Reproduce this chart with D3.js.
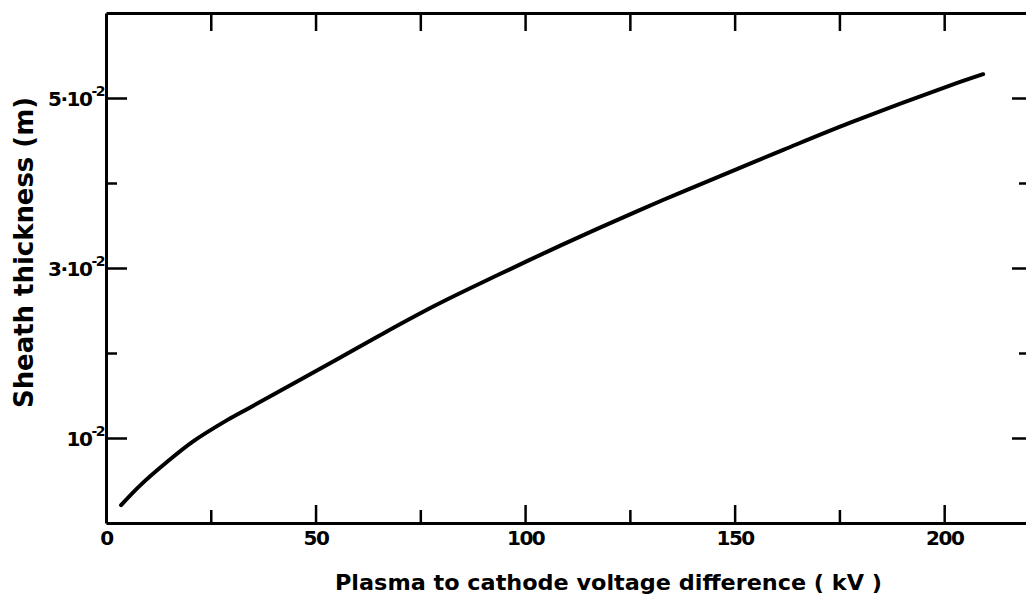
<!DOCTYPE html>
<html lang="en">
<head>
    <meta charset="UTF-8">
    <title>Sheath thickness</title>
    <script src="https://d3js.org/d3.v7.min.js"></script>
    <style>
        html, body {
            margin: 0;
            background: #fff;
        }
        text {
            font-family: "DejaVu Sans", sans-serif;
            fill: #000;
        }
    </style>
</head>
<body>
<div id="vis"></div>
<script>
// voltage (kV) vs sheath thickness (m)
var voltage   = [3.6, 8.1, 14.6, 20.8, 28.9, 34.4, 54.2, 65.4, 79, 93.6, 105.2, 117.2, 132.9, 148.4, 161.6, 177.6, 201, 209.3];
var thickness = [0.0021, 0.0044, 0.0072, 0.0096, 0.0121, 0.0136, 0.0190, 0.0221, 0.0257, 0.0292, 0.0319, 0.0346, 0.0380, 0.0412, 0.0439, 0.0471, 0.0514, 0.0528];

var xMajor = [0, 50, 100, 150, 200];
var xMinor = [25, 75, 125, 175];
var yMajor = [0.01, 0.03, 0.05];
var yMinor = [0.02, 0.04];
var yTickLabels = [["", "10", "-2"], ["3·", "10", "-2"], ["5·", "10", "-2"]];

var width = 1026, height = 600;

var svg = d3.select('#vis')
    .append('svg')
    .attr('width', width)
    .attr('height', height);

var x = d3.scaleLinear().domain([0, 220]).range([106, 1028]);
var y = d3.scaleLinear().domain([0, 0.06]).range([523, 13]);

var data = voltage.map(function(v, i) { return {v: v, s: thickness[i]}; });

function styleAxis(g) {
    g.select('.domain').attr('stroke', '#000').attr('stroke-width', 3);
    g.selectAll('.tick line').attr('stroke', '#000').attr('stroke-width', 2.5);
}

// bottom axis, ticks pointing inward
var bottom = svg.append('g')
    .attr('transform', 'translate(0,' + y(0) + ')')
    .call(d3.axisBottom(x).tickValues(xMajor).tickSize(-18).tickSizeOuter(0).tickPadding(8)
        .tickFormat(d3.format('d')));
styleAxis(bottom);
bottom.selectAll('text')
    .style('font-size', '20px')
    .style('font-weight', 'bold')
    .style('letter-spacing', '-1.5px');

svg.append('g')
    .attr('transform', 'translate(0,' + y(0) + ')')
    .call(d3.axisBottom(x).tickValues(xMinor).tickSize(-13).tickFormat(''))
    .call(function(g) { g.select('.domain').remove(); })
    .call(styleAxis);

// top frame
svg.append('g')
    .attr('transform', 'translate(0,' + y(0.06) + ')')
    .call(d3.axisTop(x).tickValues(xMajor.concat(xMinor).filter(function(d) { return d > 0; }))
        .tickSize(-18).tickSizeOuter(0).tickFormat(''))
    .call(styleAxis);

// left axis
svg.append('g')
    .attr('transform', 'translate(' + x(0) + ',0)')
    .call(d3.axisLeft(y).tickValues(yMajor).tickSize(-21).tickSizeOuter(0).tickFormat(''))
    .call(styleAxis);

svg.append('g')
    .attr('transform', 'translate(' + x(0) + ',0)')
    .call(d3.axisLeft(y).tickValues(yMinor).tickSize(-11).tickFormat(''))
    .call(function(g) { g.select('.domain').remove(); })
    .call(styleAxis);

// right axis (frame falls just outside the picture)
svg.append('g')
    .attr('transform', 'translate(' + x(220) + ',0)')
    .call(d3.axisRight(y).tickValues(yMajor).tickSize(-16).tickSizeOuter(0).tickFormat(''))
    .call(styleAxis);

svg.append('g')
    .attr('transform', 'translate(' + x(220) + ',0)')
    .call(d3.axisRight(y).tickValues(yMinor).tickSize(-9).tickFormat(''))
    .call(function(g) { g.select('.domain').remove(); })
    .call(styleAxis);

// y tick labels with superscript exponent
var yl = svg.selectAll('.ylab')
    .data(yMajor)
    .enter()
    .append('text')
    .attr('class', 'ylab')
    .attr('x', 104)
    .attr('y', function(d) { return y(d) + 8; })
    .attr('text-anchor', 'end')
    .style('font-size', '20px')
    .style('font-weight', 'bold')
    .style('letter-spacing', '-1.5px');

yl.append('tspan').text(function(d, i) { return yTickLabels[i][0] + yTickLabels[i][1]; });
yl.append('tspan')
    .attr('dy', -10)
    .style('font-size', '14px')
    .text(function(d, i) { return yTickLabels[i][2]; });

// curve
var line = d3.line()
    .x(function(d) { return x(d.v); })
    .y(function(d) { return y(d.s); })
    .curve(d3.curveCatmullRom);

svg.append('path')
    .datum(data)
    .attr('fill', 'none')
    .attr('stroke', '#000')
    .attr('stroke-width', 4)
    .attr('stroke-linecap', 'round')
    .attr('d', line);

// axis titles
svg.append('text')
    .attr('x', 335)
    .attr('y', 590)
    .attr('textLength', 547)
    .attr('lengthAdjust', 'spacingAndGlyphs')
    .style('font-size', '22px')
    .style('font-weight', 'bold')
    .text('Plasma to cathode voltage difference ( kV )');

svg.append('text')
    .attr('transform', 'translate(33,408) rotate(-90)')
    .attr('textLength', 311)
    .attr('lengthAdjust', 'spacingAndGlyphs')
    .style('font-size', '27px')
    .style('font-weight', 'bold')
    .text('Sheath thickness (m)');
</script>
</body>
</html>
